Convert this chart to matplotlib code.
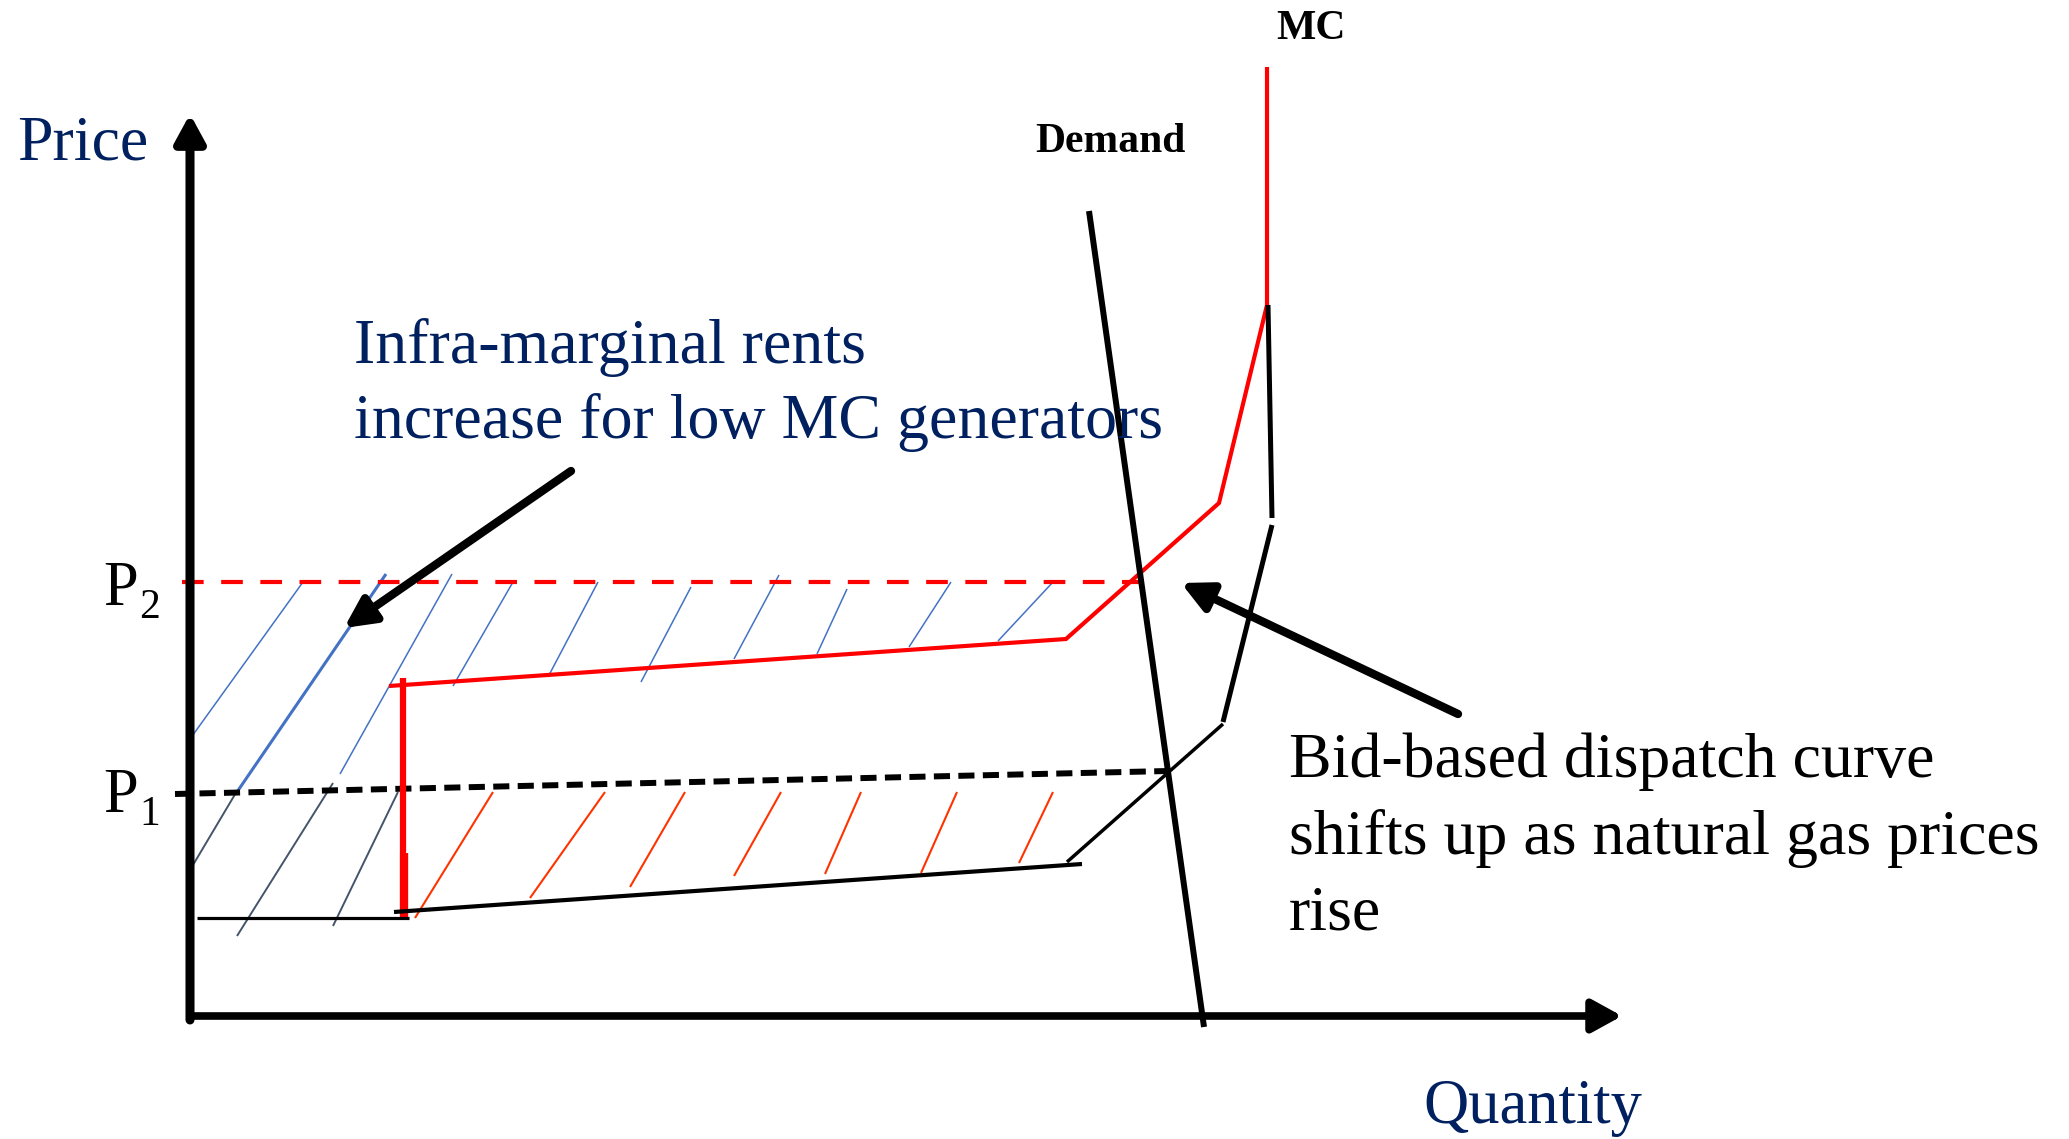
import matplotlib
matplotlib.use("Agg")
import matplotlib.pyplot as plt
from matplotlib.collections import LineCollection

# diagram geometry, in pixel units of the 2069x1139 picture (y grows downward)
yAxis = [(190, 1020), (190, 114)]
xAxis = [(192, 1016), (1622, 1016)]

p2Level = [(182, 582), (1145, 582)]
p1Level = [(175, 794), (1168, 771)]

mcNew = [(389, 686), (1066, 639), (1219, 503), (1267, 305), (1267, 67)]
mcStepUpper = [(403, 678), (403, 853)]
mcStepLower = [(404, 853), (404, 918)]

bidFlat = [(197, 918), (409, 918)]
bidSlope = [(394, 912), (1082, 864)]
bidRise = [(1067, 862), (1223, 724)]
bidSteep = [(1223, 722), (1272, 525)]
bidTop = [(1272, 518), (1268, 305)]

demand = [(1089, 211), (1204, 1027)]

blueHatch = [
    (190, 739, 303, 582), (340, 774, 452, 574), (453, 686, 513, 582),
    (548, 677, 598, 582), (641, 682, 691, 587), (734, 659, 779, 575),
    (817, 654, 847, 589), (909, 647, 951, 582), (998, 641, 1053, 582),
]
blueThick = [(237, 792), (386, 574)]
slateHatch = [(193, 865, 237, 791), (237, 936, 333, 783), (333, 926, 398, 792)]
orangeHatch = [
    (415, 918, 493, 792), (530, 898, 605, 792), (630, 887, 685, 792),
    (734, 876, 781, 792), (825, 874, 861, 792), (921, 873, 957, 792),
    (1019, 863, 1053, 792),
]

arrowRents = [(571, 471), (344, 628)]     # tail, tip
arrowBid = [(1458, 714), (1181, 583)]

rentsText = ["Infra-marginal rents", "increase for low MC generators"]
rentsPos = [(354, 363), (354, 438)]
bidText = ["Bid-based dispatch curve", "shifts up as natural gas prices", "rise"]
bidPos = [(1289, 777), (1289, 854), (1289, 930)]

navy = "#002060"
serif = ["Liberation Serif", "DejaVu Serif"]

fig = plt.figure(figsize=(20.69, 11.39), dpi=100)
ax = fig.add_axes([0, 0, 1, 1])
ax.set_xlim(0, 2069)
ax.set_ylim(1139, 0)
ax.axis("off")


def seg(pts, **kw):
    xs = [p[0] for p in pts]
    ys = [p[1] for p in pts]
    ax.plot(xs, ys, solid_capstyle="butt", **kw)


# hatching
ax.add_collection(LineCollection([[(a, b), (c, d)] for a, b, c, d in blueHatch], colors="#4472C4", linewidths=1.1))
ax.add_collection(LineCollection([[(a, b), (c, d)] for a, b, c, d in slateHatch], colors="#44546A", linewidths=1.4))
ax.add_collection(LineCollection([[(a, b), (c, d)] for a, b, c, d in orangeHatch], colors="#FF3300", linewidths=1.5))
seg(blueThick, color="#4472C4", lw=2.2)

# price levels
seg(p2Level, color="red", lw=3, ls=(0, (5.2, 4.2)))
seg(p1Level, color="black", lw=4.3, ls=(0, (2.7, 1.4)))

# new (high gas price) curve
seg(mcNew, color="red", lw=3, solid_joinstyle="miter")
seg(mcStepUpper, color="red", lw=4.5)
seg(mcStepLower, color="red", lw=6)

# original bid curve
seg(bidFlat, color="black", lw=2.3)
seg(bidSlope, color="black", lw=3)
seg(bidRise, color="black", lw=2.5)
seg(bidSteep, color="black", lw=3.6)
seg(bidTop, color="black", lw=3.6)

# demand
seg(demand, color="black", lw=4.3)

# axes with arrow heads
ax.annotate("", xy=yAxis[1], xytext=yAxis[0],
            arrowprops=dict(arrowstyle="-|>,head_length=0.55,head_width=0.3", lw=6.5,
                            color="black", shrinkA=0, shrinkB=0, mutation_scale=30))
ax.annotate("", xy=xAxis[1], xytext=xAxis[0],
            arrowprops=dict(arrowstyle="-|>,head_length=0.6,head_width=0.33", lw=5.5,
                            color="black", shrinkA=0, shrinkB=0, mutation_scale=30))

# callout arrows
for tail, tip in [arrowRents, arrowBid]:
    ax.annotate("", xy=tip, xytext=tail,
                arrowprops=dict(arrowstyle="-|>,head_length=0.6,head_width=0.3", lw=6,
                                color="black", shrinkA=0, shrinkB=0, mutation_scale=30))

# labels
ax.text(17, 159, "Price", family=serif, size=46, color=navy, va="baseline")
ax.text(1423, 1123, "Quantity", family=serif, size=45, color=navy, va="baseline")
ax.text(1276, 39, "MC", family=serif, size=30, weight="bold", va="baseline")
ax.text(1035, 152, "Demand", family=serif, size=30, weight="bold", va="baseline")

ax.text(103, 605, "P", family=serif, size=45, va="baseline")
ax.text(139, 618, "2", family=serif, size=30, va="baseline")
ax.text(103, 812, "P", family=serif, size=45, va="baseline")
ax.text(139, 825, "1", family=serif, size=30, va="baseline")

for s, (x, y) in zip(rentsText, rentsPos):
    ax.text(x, y, s, family=serif, size=46, color=navy, va="baseline")
for s, (x, y) in zip(bidText, bidPos):
    ax.text(x, y, s, family=serif, size=46, color="black", va="baseline")

fig.savefig("out.png", dpi=100)
